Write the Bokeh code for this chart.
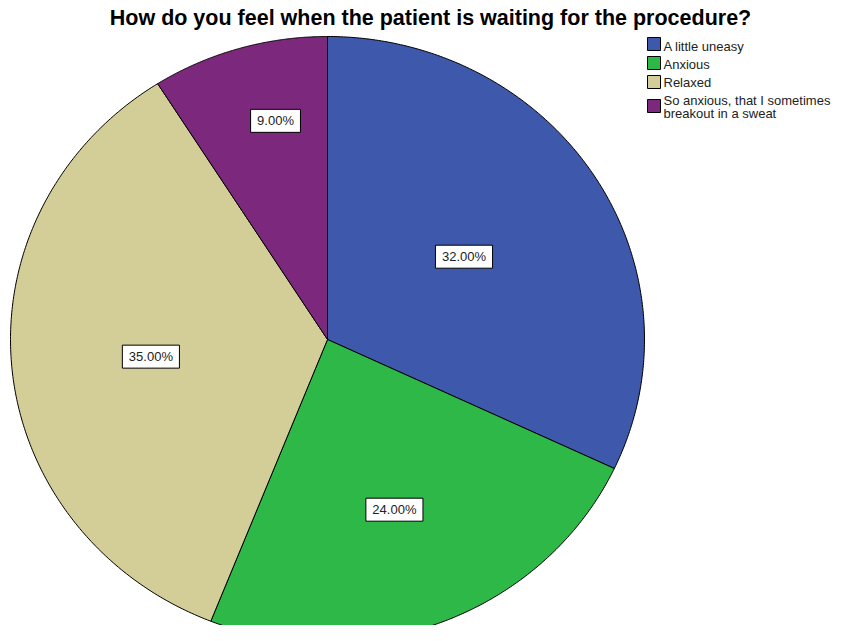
import numpy as np
from bokeh.plotting import figure
from bokeh.models import Range1d, ColumnDataSource
from bokeh.core.properties import value
from bokeh.embed import file_html
from bokeh.resources import INLINE

# ---- data ----
title_text = "How do you feel when the patient is waiting for the procedure?"
categories = ["A little uneasy", "Anxious", "Relaxed",
              "So anxious, that I sometimes\nbreakout in a sweat"]
percentages = [32.0, 24.0, 35.0, 9.0]

# ---- style ----
colors = ["#3E58AC", "#2EB848", "#D3CE97", "#7C287D"]
label_frac = [0.51, 0.60, 0.56, 0.74]
label_dang = [0.0, 1.0, -0.4, 3.4]

W, H = 837, 625
OFF = 0
FONT = "Liberation Sans"

p = figure(width=W, height=H, x_range=Range1d(0, W), y_range=Range1d(0, H),
           output_backend="svg", toolbar_location=None, min_border=0)
p.axis.visible = False
p.grid.visible = False
p.outline_line_color = None
p.background_fill_color = "white"
p.border_fill_color = "white"

def fx(X):
    return X - OFF

def fy(Y):
    return (H + OFF) - Y

cx, cy = fx(327), fy(339)
rx, ry = 317.0, 303.0

total = sum(percentages)
fracs = np.array(percentages) / total
ends = np.cumsum(fracs) * 360.0
starts = ends - fracs * 360.0

xs, ys = [], []
for s, e in zip(starts, ends):
    t = np.radians(np.linspace(s, e, 200))
    xs.append(np.concatenate([[cx], cx + rx * np.sin(t), [cx]]))
    ys.append(np.concatenate([[cy], cy + ry * np.cos(t), [cy]]))

p.patches(xs=xs, ys=ys, fill_color=colors, line_color="black", line_width=1)

# labels
lx, ly, ltxt, lw = [], [], [], []
for i, (s, e) in enumerate(zip(starts, ends)):
    m = np.radians((s + e) / 2 + label_dang[i])
    lx.append(cx + label_frac[i] * rx * np.sin(m))
    ly.append(cy + label_frac[i] * ry * np.cos(m))
    txt = f"{percentages[i]:.2f}%"
    ltxt.append(txt)
    nd = sum(c.isdigit() for c in txt)
    lw.append(nd * 7.23 + 3.61 + 11.56 + 13)
lsrc = ColumnDataSource(dict(x=lx, y=ly, t=ltxt, w=lw))
p.rect(x="x", y="y", width="w", height=23, source=lsrc,
       fill_color="white", line_color="black", line_width=1)
p.text(x="x", y="y", text="t", source=lsrc, text_font=value(FONT),
       text_font_size="13px", text_align="center", text_baseline="middle",
       text_color="#222222")

# title
p.text(x=[fx(430)], y=[fy(17)], text=[title_text], text_font=value(FONT),
       text_font_size="21.5px", text_font_style="bold", text_align="center",
       text_baseline="middle", text_color="black")

# legend
sq_y = [43.5, 62.5, 81.5, 105.5]
p.rect(x=[fx(653.5)] * 4, y=[fy(v) for v in sq_y], width=13, height=13,
       fill_color=colors, line_color="black", line_width=1)
leg_x, leg_y, leg_t = [], [], []
row_y = [46, 64, 82, 99.5]
for i, c in enumerate(categories):
    for j, line in enumerate(c.split("\n")):
        leg_x.append(fx(663))
        leg_y.append(fy(row_y[i] + 13.5 * j))
        leg_t.append(line)
p.text(x=leg_x, y=leg_y, text=leg_t,
       text_font=value(FONT), text_font_size="13px", text_align="left",
       text_baseline="middle", text_color="#222222")

open("out.html", "w").write(file_html(p, INLINE))
